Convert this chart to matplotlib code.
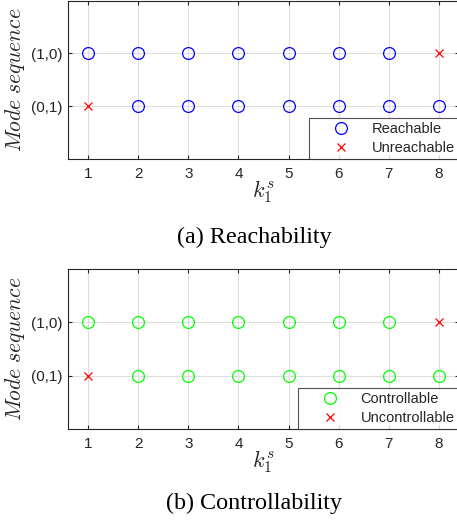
import numpy as np
import matplotlib
matplotlib.use('Agg')
import matplotlib.pyplot as plt

plt.rcParams['mathtext.fontset'] = 'cm'
plt.rcParams['font.family'] = ['Liberation Sans', 'DejaVu Sans']

k_values = [1, 2, 3, 4, 5, 6, 7, 8]
mode_labels = ['(0,1)', '(1,0)']

# 1 = ok (circle), 0 = not ok (cross), row order follows mode_labels
reach_01 = [0, 1, 1, 1, 1, 1, 1, 1]
reach_10 = [1, 1, 1, 1, 1, 1, 1, 0]
ctrl_01 = [0, 1, 1, 1, 1, 1, 1, 1]
ctrl_10 = [1, 1, 1, 1, 1, 1, 1, 0]

panels = [
    ([reach_01, reach_10], 'b', 'Reachable', 'Unreachable', '(a) Reachability'),
    ([ctrl_01, ctrl_10], '#00ff00', 'Controllable', 'Uncontrollable', '(b) Controllability'),
]

W, H = 457, 525
fig = plt.figure(figsize=(W / 100, H / 100), dpi=100)

ax_boxes = [(68, 0.5, 459, 159), (68, 269, 459, 429)]
caption_y = [237, 503]

for (rows, col, ok_lbl, bad_lbl, caption), box, cy in zip(panels, ax_boxes, caption_y):
    x0, y0, x1, y1 = box
    ax = fig.add_axes([x0 / W, 1 - y1 / H, (x1 - x0) / W, (y1 - y0) / H])
    k = np.array(k_values)
    ok_x, ok_y, bad_x, bad_y = [], [], [], []
    for i, row in enumerate(rows):
        r = np.array(row)
        ok_x += list(k[r == 1]); ok_y += [i + 1] * int((r == 1).sum())
        bad_x += list(k[r == 0]); bad_y += [i + 1] * int((r == 0).sum())
    ax.plot(ok_x, ok_y, 'o', mfc='none', mec=col, ms=8.5, mew=0.9, label=ok_lbl, zorder=3)
    ax.plot(bad_x, bad_y, 'x', color='r', ms=6, mew=0.9, label=bad_lbl, zorder=3)

    ax.set_xlim(0.6, 8.4)
    ax.set_ylim(0, 3)
    ax.set_xticks(k_values)
    ax.set_yticks([1, 2])
    ax.set_yticklabels(mode_labels)
    ax.grid(True, color='#dedede', linewidth=0.8)
    ax.set_axisbelow(True)
    ax.tick_params(direction='in', top=True, right=True, length=3, width=0.8,
                   labelsize=11, colors='#262626')
    ax.tick_params(axis='x', pad=6)
    ax.tick_params(axis='y', pad=4)
    for s in ax.spines.values():
        s.set_color('#262626')
        s.set_linewidth(0.8)

    ax.set_xlabel(r'$k_1^s$', fontsize=16, color='#262626')
    ax.xaxis.set_label_coords(0.5, -0.12)
    ax.set_ylabel(r'$Mode\ sequence$', fontsize=15.5, color='#262626')
    ax.yaxis.set_label_coords(-0.105, 0.5)

    leg = ax.legend(loc='lower right', bbox_to_anchor=(1.0, 0.0), borderaxespad=0,
                    fancybox=False, edgecolor='#262626', fontsize=10.5,
                    handletextpad=0.2, borderpad=0.3, labelspacing=0.3, handlelength=3.8)
    leg.get_frame().set_linewidth(0.8)
    for t in leg.get_texts():
        t.set_color('#262626')

    fig.text(254 / W, 1 - cy / H, caption, ha='center', va='center',
             family='Liberation Serif', fontsize=17.4)

fig.savefig('out.png', dpi=100)
